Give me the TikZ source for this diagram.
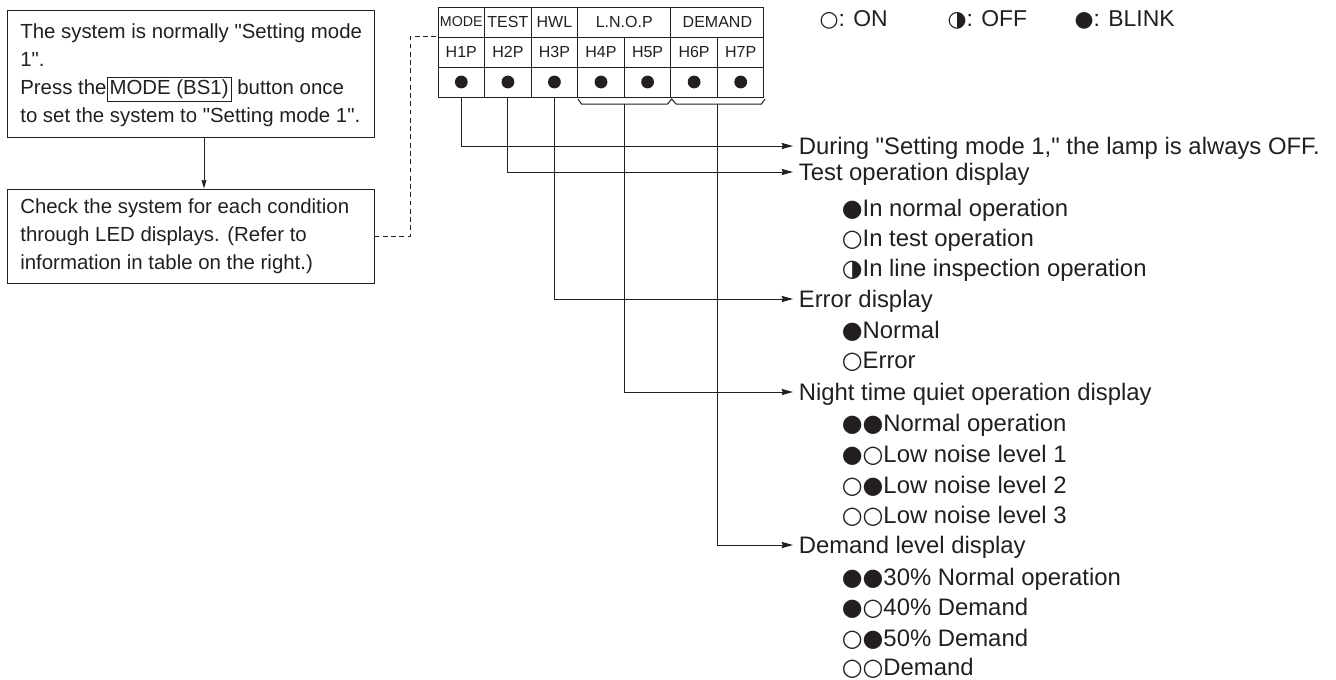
\documentclass[tikz,border=0pt]{standalone}
\usepackage{fontspec}
\setmainfont{Liberation Sans}[Ligatures=TeXOff]
\newfontfamily\symf[Scale=1.0]{DejaVu Sans}
\newfontfamily\symfl[Scale=0.95]{DejaVu Sans}
\usetikzlibrary{arrows.meta}
\definecolor{ink}{HTML}{231F20}
\newcommand\sOn{\smash{\symf ○}}
\newcommand\sOff{\smash{\symf ◑}}
\newcommand\sBl{\smash{\symf ●}}
\setlength{\fboxsep}{1.6pt}
\setlength{\fboxrule}{0.7pt}
\begin{document}
\begin{tikzpicture}[x=0.75pt,y={(0pt,-0.75pt)},line width=0.75pt,draw=ink,text=ink,
  box/.style={draw,minimum width=275.25pt,inner sep=0pt},
  btext/.style={anchor=west,align=left,font=\fontsize{15.3}{21}\selectfont,inner sep=0pt},
  cell/.style={draw,minimum width=34.93pt,minimum height=22.5pt,inner sep=0pt,
    font=\fontsize{12}{13}\selectfont},
  wcell/.style={cell,minimum width=69.86pt},
  dot/.style={circle,fill=ink,draw=none,minimum size=9.6pt,inner sep=0pt},
  head/.style={anchor=west,inner xsep=4pt,inner ysep=0pt,text height=12.8pt,text depth=0pt,
    font=\fontsize{17.9}{20}\selectfont},
  sub/.style={head},
  legend/.style={anchor=west,inner sep=0pt,font=\fontsize{17.2}{20}\selectfont},
  arr/.style={-{Stealth[length=8.5pt,width=4.6pt,inset=0.8pt]}},
  varr/.style={-{Stealth[length=6.5pt,width=3.6pt,inset=0.6pt]}}]
\useasboundingbox (0,0) rectangle (1336,679);

% left boxes
\node[box,minimum height=95.25pt] (b1) at (190.5,73.5) {};
\node[btext] (b1t) at ([xshift=10pt,yshift=-1.5pt]b1.west)
 {The system is normally "Setting mode\\ 1".\\ Press the\fbox{MODE (BS1)} button once\\
  to set the system to "Setting mode 1".};
\node[box,minimum height=70.5pt] (b2) at (190.5,236) {};
\node[btext] (b2t) at ([xshift=10pt]b2.west)
 {Check the system for each condition\\ through LED displays. (Refer to\\
  information in table on the right.)};
\coordinate (ax) at (204,0);
\draw[varr] (b1.south -| ax) -- (b2.north -| ax);

% table
\node[cell] (mode) at (461.3,22) {\fontsize{10.7}{12}\selectfont MODE};
\node[cell] (test) at (507.9,22) {TEST};
\node[cell] (hwl) at (554.4,22) {HWL};
\node[wcell] (lnop) at (624.3,22) {L.N.O.P};
\node[wcell] (dem) at (717.4,22) {DEMAND};
\foreach \i/\x in {1/461.3,2/507.9,3/554.4,4/601,5/647.6,6/694.1,7/740.7}{
  \node[cell] (h\i) at (\x,52) {H\i P};
  \node[cell] (d\i) at (\x,82) {};
  \node[dot] (p\i) at (d\i) {};
}
% dashed link
\coordinate (dk) at (410,0);
\draw[dashed,dash pattern=on 3.6pt off 2.6pt] (b2.east) -- (b2.east -| dk) -- (h1.north west -| dk) -- (h1.north west);

% brackets
\draw (578,99) -- (581.5,104) -- (667.5,104) -- (671.7,99) -- (676,104) -- (761.5,104) -- (765,99);
\coordinate (bl) at (624.6,104);
\coordinate (br) at (717.6,104);

% legend
\node[legend] (lg1) at (819,20) {{\symfl ○}: ON};
\node[legend] (lg2) at (947,20) {{\symfl ◑}: OFF};
\node[legend] (lg3) at (1074,20) {{\symfl ●}: BLINK};

% right texts
\node[head] (t1) at (793,146) {During "Setting mode 1," the lamp is always OFF.};
\node[head] (t2) at (793,172) {Test operation display};
\node[sub] (s21) at (836,208) {\sBl In normal operation};
\node[sub] (s22) at (836,238) {\sOn In test operation};
\node[sub] (s23) at (836,268) {\sOff In line inspection operation};
\node[head] (t3) at (793,299) {Error display};
\node[sub] (s31) at (836,330) {\sBl Normal};
\node[sub] (s32) at (836,360) {\sOn Error};
\node[head] (t4) at (793,392) {Night time quiet operation display};
\node[sub] (s41) at (836,423) {\sBl\sBl Normal operation};
\node[sub] (s42) at (836,454) {\sBl\sOn Low noise level 1};
\node[sub] (s43) at (836,485) {\sOn\sBl Low noise level 2};
\node[sub] (s44) at (836,515) {\sOn\sOn Low noise level 3};
\node[head] (t5) at (793,545) {Demand level display};
\node[sub] (s51) at (836,577) {\sBl\sBl 30\% Normal operation};
\node[sub] (s52) at (836,607) {\sBl\sOn 40\% Demand};
\node[sub] (s53) at (836,638) {\sOn\sBl 50\% Demand};
\node[sub] (s54) at (836,667) {\sOn\sOn Demand};

% connectors
\draw[arr] (d1.south) |- (t1.west);
\draw[arr] (d2.south) |- (t2.west);
\draw[arr] (d3.south) |- (t3.west);
\draw[arr] (bl) |- (t4.west);
\draw[arr] (br) |- (t5.west);
\end{tikzpicture}
\end{document}
